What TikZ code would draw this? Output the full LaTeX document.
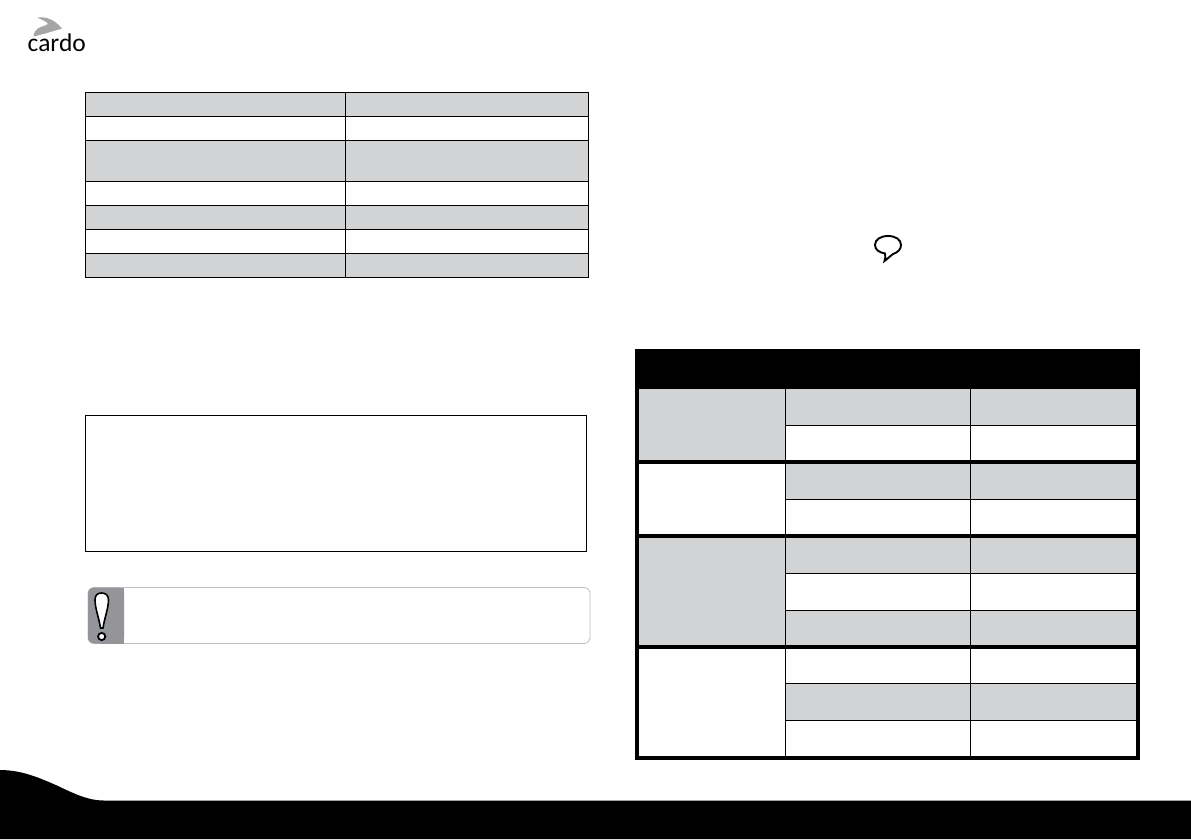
\documentclass[tikz,border=0pt]{standalone}
\usepackage{fontspec}
\setmainfont{Carlito}
\definecolor{cellgray}{HTML}{D1D3D4}
\definecolor{swoosh}{HTML}{A3A5A7}
\definecolor{tabbar}{HTML}{939598}
\begin{document}
\begin{tikzpicture}[x=1pt,y=-1pt,
  line/.style={black,line width=0.9pt},
  cell/.style={fill=cellgray,draw=none}]
\useasboundingbox (0,0) rectangle (1191,839);
\fill[white] (0,0) rectangle (1191,839);
% footer
\fill[black] (0,770) .. controls (22,770) and (40,778) .. (58,786) .. controls (75,794) and (88,800.5) .. (104,800.5) -- (1191,800.5) -- (1191,839) -- (0,839) -- cycle;
% logo
\fill[swoosh] (37.5,17.5) .. controls (46,16.5) and (54,19) .. (62,28.5) .. controls (54,31) and (42,34.5) .. (33.5,36.5) .. controls (34,32) and (36,28.5) .. (42,26.5) .. controls (47,25) and (49,24) .. (47,22.5) .. controls (44,20.5) and (40,19) .. (37.5,17.5) -- cycle;
\node[inner sep=0pt,anchor=base west,font=\fontsize{25.5}{26}\selectfont,text=black] (logotext) at (27.5,51) {cardo};
% table 1
\foreach \a/\b in {92.3/116.3,140.3/181.3,205.3/229.3,253.3/277.3}
  \fill[cell] (85.5,\a) rectangle (588.3,\b);
\draw[line] (85.5,92.3) rectangle (588.3,277.3);
\foreach \y in {116.3,140.3,181.3,205.3,229.3,253.3}
  \draw[line] (85.5,\y) -- (588.3,\y);
\draw[line] (345.3,92.3) -- (345.3,277.3);
% note box
\draw[black,line width=0.9pt] (85.5,415.5) rectangle (586,551.5);
% caution box
\draw[black!25,line width=0.8pt,rounded corners=6pt] (88,587.5) rectangle (590,643.5);
\fill[tabbar,rounded corners=6pt] (88,587.5) -- (124,587.5) -- (124,643.5) -- (88,643.5) -- cycle;
\fill[tabbar] (100,587.5) rectangle (124,643.5);
\draw[black,fill=white,line width=1.6pt] (95,600) .. controls (95,595) and (97.5,593) .. (101.5,593) .. controls (105.5,593) and (108.5,595) .. (108.5,600) .. controls (108.5,608) and (104.5,618) .. (103,628) -- (100.5,628) .. controls (99,618) and (95,608) .. (95,600) -- cycle;
\draw[black,fill=white,line width=1.8pt] (101.7,636.5) circle (3.6pt);
% speech bubble
\draw[black,line width=1.9pt,fill=white] (885,253.5) .. controls (885.5,256) and (885.5,258) .. (884.5,261) .. controls (888,258.5) and (890,256) .. (893,254) .. controls (898,252.5) and (901,249) .. (901,245) .. controls (901,239.5) and (895.5,236) .. (888,236) .. controls (880.5,236) and (875,239.5) .. (875,245) .. controls (875,249.5) and (879,252.5) .. (885,253.5) -- cycle;
% table 2
\fill[black] (635,349) rectangle (1140,759.5);
\fill[white] (639,389) rectangle (1136,756);
% first column
\fill[cell] (639,389) rectangle (785,460.5);
\fill[cell] (639,537.5) rectangle (785,645.5);
% other columns
\foreach \a/\b in {389/425.3,463.5/499.3,537.5/573.3,610.3/645.5,683.3/720.3}
  \fill[cell] (785,\a) rectangle (1136,\b);
\foreach \y in {425.3,499.3,573.3,610.3,683.3,720.3}
  \draw[line] (785,\y) -- (1136,\y);
\draw[line] (785,389) -- (785,756);
\draw[line] (970.5,389) -- (970.5,756);
\fill[black] (635,460) rectangle (1140,463.5);
\fill[black] (635,534) rectangle (1140,537.5);
\fill[black] (635,645) rectangle (1140,649);
\end{tikzpicture}
\end{document}
